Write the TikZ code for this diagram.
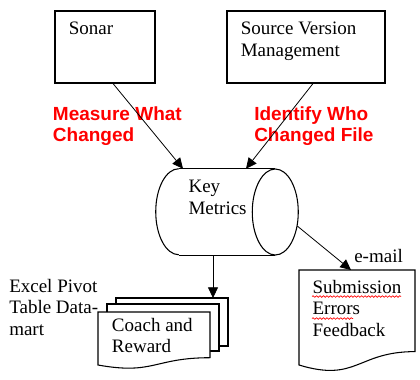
\documentclass[tikz,border=0pt]{standalone}
\usepackage{fontspec}
\setmainfont{Liberation Serif}
\newfontfamily\arialfont{Liberation Sans}
\usetikzlibrary{arrows.meta,calc,positioning,decorations.pathmorphing}
\tikzset{
  srcbox/.style   = {draw, line width=0.8pt, minimum width=75pt, minimum height=54pt,
                     inner sep=0pt},
  store/.style    = {inner sep=0pt, minimum width=106.5pt, minimum height=64.5pt},
  storeline/.style= {line width=0.8pt},
  txt/.style      = {inner sep=0pt, anchor=base west, align=left,
                     font=\fontsize{14.25}{16}\selectfont},
  redtxt/.style   = {txt, text=red, font=\arialfont\bfseries\fontsize{14.25}{16}\selectfont},
  flow/.style     = {-{Triangle[length=8pt,width=7.5pt]}, line width=0.6pt},
  docline/.style  = {draw, fill=white, line width=0.8pt},
  squiggle/.style = {red, line width=0.5pt, decorate,
                     decoration={snake, amplitude=0.6pt, segment length=2.6pt}},
}
\begin{document}
\begin{tikzpicture}[x=0.75pt,y=-0.75pt]
  \useasboundingbox (0,0) rectangle (420,379);
  % inputs
  \node[srcbox] (sonar) at (105,47) {};
  \node[srcbox, minimum width=118.5pt] (svm) at (306,47) {};
  \node[txt] (sonartxt) at (68.5,34) {Sonar};
  \node[txt] (svmtxt) at (240.5,56) {Source Version\\Management};
  \node[redtxt] (measure) at (52.7,141.7) {Measure What\\Changed};
  \node[redtxt] (identify) at (254,141.7) {Identify Who\\Changed File};
  % metrics store
  \node[store] (metrics) at (227,212) {};
  \draw[storeline] ($(metrics.north west)+(23,0)$) -- ($(metrics.north east)+(-23,0)$);
  \draw[storeline] ($(metrics.south west)+(23,0)$) -- ($(metrics.south east)+(-23,0)$);
  \draw[storeline] ($(metrics.north west)+(23,0)$)
      arc[start angle=90, end angle=270, x radius=17.25pt, y radius=32.25pt];
  \draw[storeline] ($(metrics.east)+(-23,0)$) ellipse [x radius=17.25pt, y radius=32.25pt];
  \node[txt] (metricstxt) at (188.3,214) {Key\\Metrics};
  % stacked reports
  \draw[docline] (116,304) |- (228,298) |- (219,346);
  \draw[docline] (107,312) |- (219,304) |- (210,351);
  \draw[docline] (98,312) -- (210,312) -- (210,357.7)
      .. controls (154,357.7) and (154,375.1) .. (98,365) -- cycle;
  \node[txt] (excel) at (9,335) {Excel Pivot\\Table Data-\\mart};
  \node[txt] (coach) at (111.7,352.7) {Coach and\\Reward};
  % feedback document
  \draw[docline] (299,270) -- (415,270) -- (415,351.6)
      .. controls (357,351.6) and (357,382.6) .. (299,365) -- cycle;
  \node[txt] (email) at (354,262) {e-mail};
  \node[txt] (submission) at (312.3,336) {Submission\\Errors\\Feedback};
  \draw[squiggle] (312,296.5) -- (401,296.5);
  \draw[squiggle] (312,318.5) -- (353,318.5);
  % connectors
  \coordinate (stacktop) at (213,298);
  \coordinate (doctop) at (351,270);
  \draw[flow] ($(sonar.south)+(8,0)$) -- ($(metrics.north)+(-44,0)$);
  \draw[flow] ($(svm.south)+(7,0)$) -- ($(metrics.north)+(19,0)$);
  \draw[flow] ($(metrics.south)+(-14,0)$) -- (stacktop);
  \draw[flow] ($(metrics.east)+(-1,14)$) -- (doctop);
\end{tikzpicture}
\end{document}
